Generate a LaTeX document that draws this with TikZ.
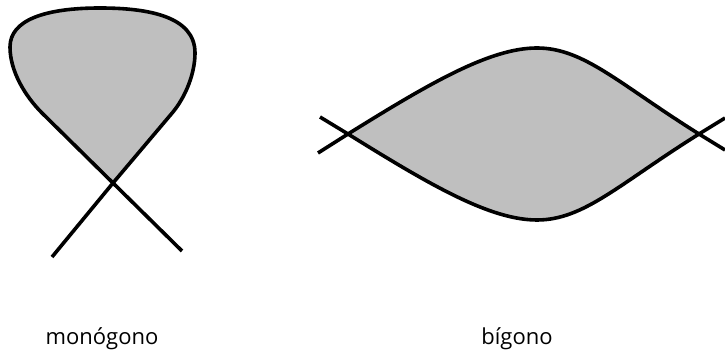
\documentclass[tikz,border=0pt]{standalone}
\usepackage{fontspec}
\setmainfont{Open Sans}
\begin{document}
\begin{tikzpicture}[x=1pt,y=1pt,
  curve/.style={line width=3.6pt,line join=round,black},
  region/.style={fill=gray!50},
  lbl/.style={font=\fontsize{22}{26}\selectfont,anchor=base,inner sep=0pt}]
\useasboundingbox (0,0) rectangle (725,355);
% monogon
\coordinate (mA) at (52,98);
\coordinate (mX) at (113,172);
\coordinate (mB) at (182,104);
\coordinate (mRs) at (173,243);
\coordinate (mR) at (195,302);
\coordinate (mT) at (100,347);
\coordinate (mL) at (10,308);
\coordinate (mLs) at (42,242);
\fill[region] (mX) -- (mRs) .. controls (186,259) and (195,282) .. (mR)
  .. controls (195,338) and (150,347) .. (mT)
  .. controls (45,347) and (10,335) .. (mL)
  .. controls (10,283) and (26,258) .. (mLs) -- cycle;
\draw[curve] (mA) -- (mX) -- (mRs) .. controls (186,259) and (195,282) .. (mR)
  .. controls (195,338) and (150,347) .. (mT)
  .. controls (45,347) and (10,335) .. (mL)
  .. controls (10,283) and (26,258) .. (mLs) -- (mX) -- (mB);
% bigon
\coordinate (bL) at (348,221);
\coordinate (bR) at (699,221);
\coordinate (bT) at (537,307);
\coordinate (bB) at (537,135);
\coordinate (bLa) at (320,238);
\coordinate (bLb) at (318,202);
\coordinate (bRa) at (725,205);
\coordinate (bRb) at (725,237);
\fill[region] (bL) .. controls (430,272) and (490,307) .. (bT)
  .. controls (584,307) and (619,271) .. (bR)
  .. controls (619,171) and (584,135) .. (bB)
  .. controls (490,135) and (430,170) .. (bL) -- cycle;
\draw[curve] (bLb) -- (bL) .. controls (430,272) and (490,307) .. (bT)
  .. controls (584,307) and (619,271) .. (bR) -- (bRa);
\draw[curve] (bLa) -- (bL) .. controls (430,170) and (490,135) .. (bB)
  .. controls (584,135) and (619,171) .. (bR) -- (bRb);
% labels
\node[lbl] (t1) at (102,10) {monógono};
\node[lbl] (t2) at (517,10) {bígono};
\end{tikzpicture}
\end{document}
